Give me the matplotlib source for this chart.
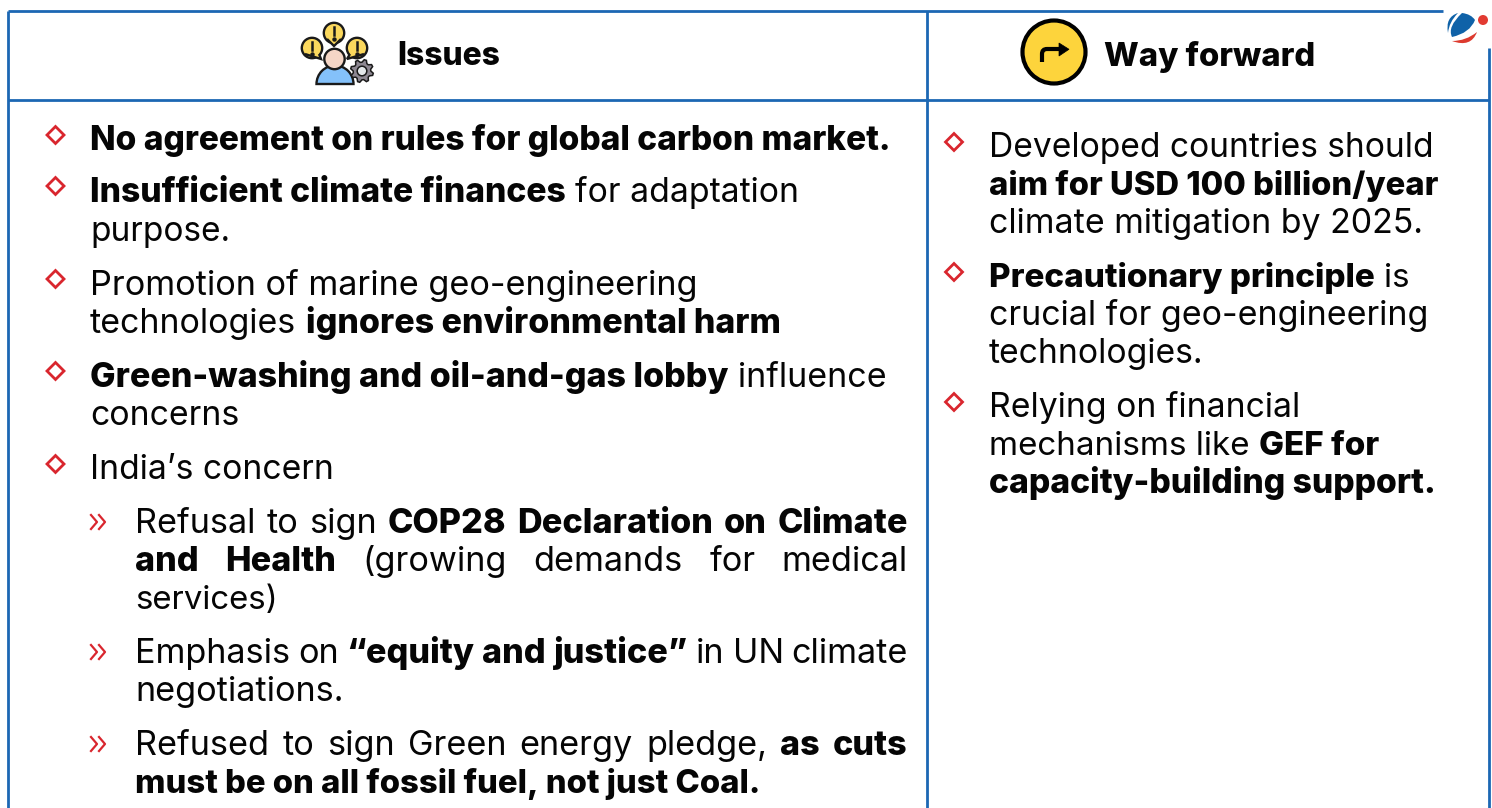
import numpy as np
import matplotlib
matplotlib.use("Agg")
import matplotlib.pyplot as plt
from matplotlib.patches import Circle, Polygon, PathPatch, Wedge
from matplotlib.path import Path

FONT = "Inter"
BLUE = "#1c67b3"
RED = "#d9262e"
BASE_PT = 23.0
HEAVY = 800

issue_lines = [
    (90, 889, 150, False, [("No agreement on rules for global carbon market.", True)]),
    (90, 799, 202, False, [("Insufficient climate finances", True), (" for adaptation", False)]),
    (90, 230, 241, False, [("purpose.", False)]),
    (90, 697, 295, False, [("Promotion of marine geo-engineering", False)]),
    (90, 779, 333, False, [("technologies ", False), ("ignores environmental harm", True)]),
    (90, 886, 387, False, [("Green-washing and oil-and-gas lobby", True), (" influence", False)]),
    (90, 239, 425, False, [("concerns", False)]),
    (90, 333, 479, False, [("India’s concern", False)]),
    (135, 908, 533, True, [("Refusal to sign ", False), ("COP28 Declaration on Climate", True)]),
    (135, 908, 571, True, [("and Health", True), (" (growing demands for medical", False)]),
    (135, 278, 609, False, [("services)", False)]),
    (135, 908, 663, True, [("Emphasis on ", False), ("“equity and justice”", True), (" in UN climate", False)]),
    (135, 343, 701, False, [("negotiations.", False)]),
    (135, 908, 755, True, [("Refused to sign Green energy pledge, ", False), ("as cuts", True)]),
    (135, 759, 793, False, [("must be on all fossil fuel, not just Coal.", True)]),
]
way_lines = [
    (989, 1433, 157, False, [("Developed countries should", False)]),
    (989, 1437, 195, False, [("aim for USD 100 billion/year", True)]),
    (989, 1422, 233, False, [("climate mitigation by 2025.", False)]),
    (989, 1409, 287, False, [("Precautionary principle", True), (" is", False)]),
    (989, 1428, 325, False, [("crucial for geo-engineering", False)]),
    (989, 1203, 363, False, [("technologies.", False)]),
    (989, 1299, 417, False, [("Relying on financial", False)]),
    (989, 1379, 455, False, [("mechanisms like ", False), ("GEF for", True)]),
    (989, 1436, 493, False, [("capacity-building support.", True)]),
]
headers = [(397, 500, 65, "Issues"), (1104, 1315, 66, "Way forward")]
diamonds = [(55.5, 135), (55.5, 186), (55.5, 279), (55.5, 371), (55.5, 464),
            (954, 142), (954, 272), (954, 402)]
chevrons = [(98, 522), (98, 652), (98, 744)]

fig = plt.figure(figsize=(14.92, 8.08), dpi=100)
ax = fig.add_axes([0, 0, 1, 1])
ax.set_xlim(0, 1492)
ax.set_ylim(808, 0)
ax.axis("off")
renderer = fig.canvas.get_renderer()


def width(s, bold, size):
    t = ax.text(0, 0, s.replace(" ", "\u00a0"), fontsize=size, family=FONT,
                fontweight=HEAVY if bold else "normal")
    w = t.get_window_extent(renderer).width
    t.remove()
    return w


def put(x, y, s, bold, size):
    ax.text(x, y, s, fontsize=size, family=FONT, va="baseline", ha="left", color="#050505",
            fontweight=HEAVY if bold else "normal")


JUST_PT = BASE_PT * 208 / width("negotiations.", False, BASE_PT)


def draw_line(x0, x1, y, justified, runs):
    if justified:
        words = [(w, b) for s, b in runs for w in s.split()]
        total = sum(width(w, b, JUST_PT) for w, b in words)
        gap = (x1 - x0 - total) / (len(words) - 1)
        x = x0
        for w, b in words:
            put(x, y, w, b, JUST_PT)
            x += width(w, b, JUST_PT) + gap
        return
    natural = sum(width(s, b, BASE_PT) for s, b in runs)
    size = BASE_PT * (x1 - x0) / natural
    x = x0
    for s, b in runs:
        lead = width(" ", b, size) if s.startswith(" ") else 0
        put(x + lead, y, s.strip(), b, size)
        x += width(s, b, size)


for ln in issue_lines + way_lines:
    draw_line(*ln)
for x0, x1, y, s in headers:
    draw_line(x0, x1, y, False, [(s, True)])

# table rules
for xs, ys in [([8, 8], [11, 808]), ([927, 927], [11, 808]), ([1488.5, 1488.5], [48, 808]),
               ([8, 1443], [11, 11]), ([8, 1489], [100, 100])]:
    ax.plot(xs, ys, color=BLUE, lw=2.0, solid_capstyle="butt")

# bullets
for x, y in diamonds:
    ax.add_patch(Polygon([(x, y - 8.5), (x + 8.5, y), (x, y + 8.5), (x - 8.5, y)], closed=True,
                         fc="white", ec=RED, lw=2.0))
for x, y in chevrons:
    for dx in (-7, 1):
        ax.plot([x + dx, x + dx + 6, x + dx], [y - 7, y, y + 7], color=RED, lw=1.6)

# Issues icon
K = "#1a1a1a"
for cx, cy, tipx, tipy in [(334, 33, 334, 46), (312, 48, 321, 59), (357, 48, 347, 59)]:
    ax.add_patch(Circle((cx, cy), 10.2, fc="#fbd85d", ec=K, lw=1.7, zorder=3))
    ax.add_patch(Polygon([(cx - 7, cy + 6), (tipx, tipy), (cx + 7, cy + 6)], closed=False,
                         fc="#fbd85d", ec=K, lw=1.7, zorder=3))
    ax.plot([cx, cx], [cy - 6, cy + 2], color=K, lw=1.8, zorder=4)
    ax.plot([cx], [cy + 6], "o", ms=2.2, color=K, zorder=4)
ax.add_patch(Wedge((335, 84), 18.5, 180, 360, fc="#84c1fa", ec=K, lw=1.7, zorder=4))
ax.add_patch(Circle((334.5, 59), 10.2, fc="#f5d6c6", ec=K, lw=1.7, zorder=5))
n_teeth = 8
ang = np.linspace(0, 2 * np.pi, n_teeth * 4, endpoint=False) + np.pi / 16
rad = np.tile([11.5, 11.5, 8.8, 8.8], n_teeth)
gear = np.column_stack([362 + rad * np.cos(ang), 71 + rad * np.sin(ang)])
ax.add_patch(Polygon(gear, closed=True, fc="#8d8791", ec=K, lw=1.1, zorder=6))
ax.add_patch(Circle((362, 71), 4.8, fc="#e4e8ea", ec=K, lw=1.1, zorder=7))

# Way forward icon
ax.add_patch(Circle((1054, 52), 31.5, fc="#fdd43c", ec="black", lw=3.0, zorder=3))
arrow = Path([(1042, 62), (1042, 54), (1042, 49), (1047, 49), (1062, 49)],
             [Path.MOVETO, Path.LINETO, Path.CURVE3, Path.CURVE3, Path.LINETO])
ax.add_patch(PathPatch(arrow, fc="none", ec="black", lw=3.0, capstyle="butt", zorder=4))
ax.add_patch(Polygon([(1059, 43), (1069, 49.3), (1059, 56)], closed=True, fc="black", ec="black", lw=.5, zorder=4))

# logo
C3 = Path.CURVE3
sliver = Path([(1458, 13), (1445, 17), (1448, 33), (1449, 22), (1458, 13)],
              [Path.MOVETO, C3, C3, C3, C3])
body = Path([(1462, 13), (1471, 14), (1475, 20), (1470, 33), (1452, 37), (1447, 27), (1462, 13)],
            [Path.MOVETO, C3, C3, C3, C3, C3, C3])
for p in (sliver, body):
    ax.add_patch(PathPatch(p, fc="#0f62a8", ec="none", zorder=5))
swoosh = Path([(1452, 41), (1466, 41), (1477, 32), (1471, 48), (1452, 41)],
              [Path.MOVETO, C3, C3, C3, C3])
ax.add_patch(PathPatch(swoosh, fc="#dd3a2e", ec="none", zorder=5))
ax.add_patch(Circle((1483, 20), 5, fc="#e23b32", ec="none", zorder=5))

fig.savefig("out.png", dpi=100)
